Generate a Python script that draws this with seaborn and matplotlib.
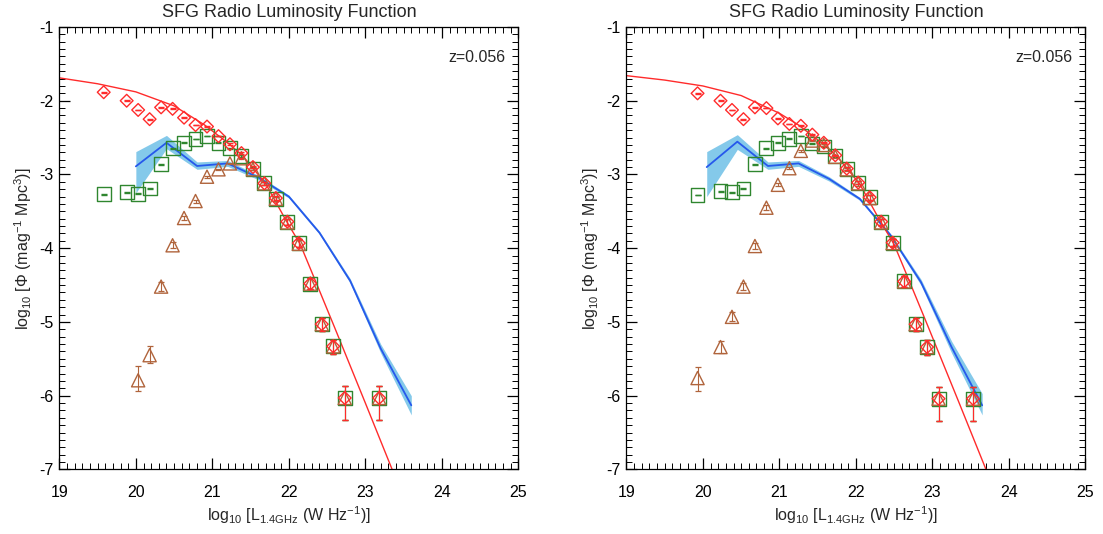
import numpy as np
import pandas as pd
import matplotlib
matplotlib.use("Agg")
import matplotlib.pyplot as plt
import seaborn as sns
from matplotlib.ticker import MultipleLocator

# ---------------- data ----------------
TITLE = "SFG Radio Luminosity Function"
ZTEXT = "z=0.056"

# left panel
L_line_x = [19.0, 19.5, 20.0, 20.5, 20.9, 21.2, 21.4, 21.7, 21.95, 22.15, 22.35, 22.6, 23.0, 23.35, 23.5]
L_line_y = [-1.69, -1.77, -1.88, -2.07, -2.33, -2.57, -2.75, -3.13, -3.60, -3.95, -4.45, -5.08, -6.10, -7.0, -7.4]

L_mod_x = [20.0, 20.4, 20.8, 21.2, 21.6, 22.0, 22.4, 22.8, 23.2, 23.6]
L_mod_y = [-2.89, -2.57, -2.885, -2.85, -3.04, -3.30, -3.79, -4.44, -5.36, -6.13]
L_mod_lo = [-3.25, -2.65, -2.93, -2.89, -3.07, -3.32, -3.81, -4.47, -5.42, -6.26]
L_mod_hi = [-2.69, -2.47, -2.83, -2.81, -3.01, -3.28, -3.77, -4.41, -5.30, -6.00]

L_x = [19.58, 19.88, 20.03, 20.18, 20.33, 20.48, 20.63, 20.78, 20.93, 21.08, 21.23,
       21.38, 21.53, 21.68, 21.83, 21.98, 22.13, 22.28, 22.43, 22.58, 22.73, 23.18]
L_dia = [-1.885, -2.00, -2.125, -2.25, -2.09, -2.11, -2.23, -2.33, -2.35, -2.48, -2.59,
         -2.71, -2.90, -3.12, -3.32, -3.64, -3.93, -4.48, -5.03, -5.33, -6.03, -6.03]
L_sq = [-3.27, -3.24, -3.26, -3.19, -2.86, -2.645, -2.57, -2.52, -2.48, -2.57, -2.645,
        -2.75, -2.92, -3.12, -3.33, -3.65, -3.93, -4.48, -5.03, -5.33, -6.03, -6.03]
L_err_lo = [0.005, 0.005, 0.005, 0.005, 0.005, 0.005, 0.005, 0.005, 0.005, 0.005, 0.01,
            0.01, 0.015, 0.02, 0.03, 0.04, 0.05, 0.07, 0.09, 0.11, 0.30, 0.30]
L_err_hi = [0.005, 0.005, 0.005, 0.005, 0.005, 0.005, 0.005, 0.005, 0.005, 0.005, 0.01,
            0.01, 0.015, 0.02, 0.03, 0.04, 0.05, 0.07, 0.08, 0.09, 0.16, 0.16]

L_tri_x = [20.03, 20.18, 20.33, 20.48, 20.63, 20.78, 20.93, 21.08, 21.23, 21.38,
           21.53, 21.68, 21.83, 21.98, 22.13, 22.28, 22.43, 22.58, 22.73, 23.18]
L_tri_y = [-5.79, -5.45, -4.52, -3.96, -3.59, -3.36, -3.03, -2.93, -2.85, -2.78,
           -2.93, -3.12, -3.33, -3.65, -3.94, -4.48, -5.03, -5.33, -6.03, -6.03]
L_tri_lo = [0.14, 0.11, 0.06, 0.04, 0.03, 0.02, 0.015, 0.01, 0.01, 0.01,
            0.015, 0.02, 0.03, 0.04, 0.05, 0.07, 0.09, 0.11, 0.30, 0.30]
L_tri_hi = [0.19, 0.12, 0.06, 0.04, 0.03, 0.02, 0.015, 0.01, 0.01, 0.01,
            0.015, 0.02, 0.03, 0.04, 0.05, 0.07, 0.08, 0.09, 0.16, 0.16]

# right panel
R_line_x = [19.0, 19.5, 20.0, 20.5, 21.0, 21.25, 21.55, 21.75, 22.05, 22.3, 22.5, 22.7, 22.95, 23.35, 23.7, 23.85]
R_line_y = [-1.66, -1.72, -1.80, -1.93, -2.17, -2.33, -2.57, -2.75, -3.13, -3.60, -3.95, -4.45, -5.08, -6.10, -7.0, -7.4]

R_mod_x = [20.05, 20.45, 20.85, 21.25, 21.65, 22.05, 22.45, 22.85, 23.25, 23.65]
R_mod_y = [-2.90, -2.555, -2.885, -2.85, -3.06, -3.33, -3.82, -4.46, -5.34, -6.13]
R_mod_lo = [-3.30, -2.66, -2.93, -2.89, -3.09, -3.35, -3.84, -4.50, -5.42, -6.26]
R_mod_hi = [-2.69, -2.46, -2.83, -2.81, -3.03, -3.31, -3.80, -4.42, -5.26, -5.97]

R_x = [19.93, 20.23, 20.38, 20.53, 20.68, 20.83, 20.98, 21.13, 21.28, 21.43, 21.58,
       21.73, 21.88, 22.03, 22.18, 22.33, 22.48, 22.63, 22.78, 22.93, 23.08, 23.53]
R_dia = [-1.90, -2.00, -2.125, -2.25, -2.09, -2.10, -2.24, -2.315, -2.34, -2.46, -2.57,
         -2.74, -2.92, -3.11, -3.31, -3.64, -3.925, -4.45, -5.03, -5.34, -6.04, -6.04]
R_sq = [-3.28, -3.23, -3.24, -3.19, -2.86, -2.645, -2.57, -2.515, -2.48, -2.58, -2.62,
        -2.75, -2.92, -3.11, -3.31, -3.64, -3.925, -4.45, -5.03, -5.34, -6.04, -6.04]
R_err_lo = [0.005, 0.005, 0.005, 0.005, 0.005, 0.005, 0.005, 0.005, 0.005, 0.005, 0.01,
            0.01, 0.015, 0.02, 0.03, 0.04, 0.05, 0.07, 0.09, 0.11, 0.30, 0.30]
R_err_hi = [0.005, 0.005, 0.005, 0.005, 0.005, 0.005, 0.005, 0.005, 0.005, 0.005, 0.01,
            0.01, 0.015, 0.02, 0.03, 0.04, 0.05, 0.07, 0.08, 0.09, 0.16, 0.16]

R_tri_x = R_x
R_tri_y = [-5.76, -5.34, -4.93, -4.52, -3.97, -3.45, -3.14, -2.915, -2.68, -2.54, -2.60,
           -2.76, -2.93, -3.12, -3.32, -3.65, -3.93, -4.45, -5.03, -5.34, -6.04, -6.04]
R_tri_lo = [0.17, 0.08, 0.06, 0.05, 0.04, 0.03, 0.02, 0.015, 0.01, 0.01, 0.01,
            0.015, 0.02, 0.03, 0.04, 0.05, 0.06, 0.07, 0.09, 0.11, 0.30, 0.30]
R_tri_hi = [0.15, 0.08, 0.06, 0.05, 0.04, 0.03, 0.02, 0.015, 0.01, 0.01, 0.01,
            0.015, 0.02, 0.03, 0.04, 0.05, 0.06, 0.07, 0.08, 0.09, 0.16, 0.16]

X_TICKS = [19, 20, 21, 22, 23, 24, 25]
Y_TICKS = [-7, -6, -5, -4, -3, -2, -1]

# ---------------- style ----------------
RED = "#ff2b2b"
GREEN = "#2f862f"
BROWN = "#b0643c"
BLUE = "#2658ec"
BAND = "#84c9ea"

sns.set_theme(style="ticks")
plt.rcParams['font.family'] = ['Liberation Sans', 'DejaVu Sans']
plt.rcParams['mathtext.fontset'] = 'custom'
plt.rcParams['mathtext.rm'] = 'Liberation Sans'
plt.rcParams['mathtext.it'] = 'Liberation Sans:italic'
plt.rcParams['mathtext.bf'] = 'Liberation Sans:bold'
plt.rcParams['axes.linewidth'] = 0.9

fig = plt.figure(figsize=(11.03, 5.34), dpi=100)
ax1 = fig.add_axes([0.0538, 0.1208, 0.4162, 0.8287])
ax2 = fig.add_axes([0.5679, 0.1208, 0.4162, 0.8287])


def panel(ax, line_x, line_y, mod_x, mod_y, mod_lo, mod_hi,
          px, dia, sq, elo, ehi, tx, ty, tlo, thi):
    ax.fill_between(mod_x, mod_lo, mod_hi, color=BAND, lw=0, zorder=1)
    sns.lineplot(x=mod_x, y=mod_y, ax=ax, color=BLUE, lw=1.3, sort=False,
                 estimator=None, zorder=2)
    sns.lineplot(x=line_x, y=line_y, ax=ax, color=RED, lw=1.0, sort=False,
                 estimator=None, zorder=2)

    # squares
    ax.errorbar(px, sq, yerr=[elo, ehi], fmt='none', ecolor=GREEN, elinewidth=0.8,
                capsize=2.2, capthick=1.0, zorder=3)
    sns.scatterplot(x=px, y=sq, ax=ax, marker='s', s=100, color=GREEN,
                    facecolor='none', edgecolor=GREEN, linewidth=1.0, zorder=3)
    # triangles
    ax.errorbar(tx, ty, yerr=[tlo, thi], fmt='none', ecolor=BROWN, elinewidth=0.8,
                capsize=2.2, capthick=0.9, zorder=4)
    sns.scatterplot(x=tx, y=ty, ax=ax, marker='^', s=90, color=BROWN,
                    facecolor='none', edgecolor=BROWN, linewidth=1.0, zorder=4)
    # diamonds
    ax.errorbar(px, dia, yerr=[elo, ehi], fmt='none', ecolor=RED, elinewidth=0.8,
                capsize=2.2, capthick=1.0, zorder=5)
    sns.scatterplot(x=px, y=dia, ax=ax, marker='D', s=42, color=RED,
                    facecolor='none', edgecolor=RED, linewidth=1.0, zorder=5)

    ax.set_xlim(19, 25)
    ax.set_ylim(-7, -1)
    ax.set_xticks(X_TICKS)
    ax.set_yticks(Y_TICKS)
    ax.set_xticklabels([str(v) for v in X_TICKS])
    ax.set_yticklabels([str(v) for v in Y_TICKS])
    ax.xaxis.set_minor_locator(MultipleLocator(0.1))
    ax.yaxis.set_minor_locator(MultipleLocator(0.1))
    ax.tick_params(which='both', direction='in', top=True, right=True, colors='black',
                   labelcolor='black')
    ax.tick_params(which='major', length=8, width=0.9, labelsize=11.5)
    ax.tick_params(axis='x', which='major', pad=11)
    ax.tick_params(axis='y', which='major', pad=4)
    ax.tick_params(which='minor', length=4, width=0.7)
    for sp in ax.spines.values():
        sp.set_visible(True)
        sp.set_color('black')
    ax.set_title(TITLE, fontsize=13, pad=7)
    ax.set_xlabel(r'log$_{10}$ [L$_{1.4\mathrm{GHz}}$ (W Hz$^{-1}$)]', fontsize=11.5, labelpad=3)
    ax.set_ylabel(r'log$_{10}$ [$\Phi$ (mag$^{-1}$ Mpc$^3$)]', fontsize=11.5, labelpad=4)
    ax.text(0.972, 0.932, ZTEXT, transform=ax.transAxes, ha='right', va='center', fontsize=11.5)
    ax.set_facecolor('white')


panel(ax1, L_line_x, L_line_y, L_mod_x, L_mod_y, L_mod_lo, L_mod_hi,
      L_x, L_dia, L_sq, L_err_lo, L_err_hi, L_tri_x, L_tri_y, L_tri_lo, L_tri_hi)
panel(ax2, R_line_x, R_line_y, R_mod_x, R_mod_y, R_mod_lo, R_mod_hi,
      R_x, R_dia, R_sq, R_err_lo, R_err_hi, R_tri_x, R_tri_y, R_tri_lo, R_tri_hi)

fig.savefig("out.png", dpi=100, facecolor='white')
